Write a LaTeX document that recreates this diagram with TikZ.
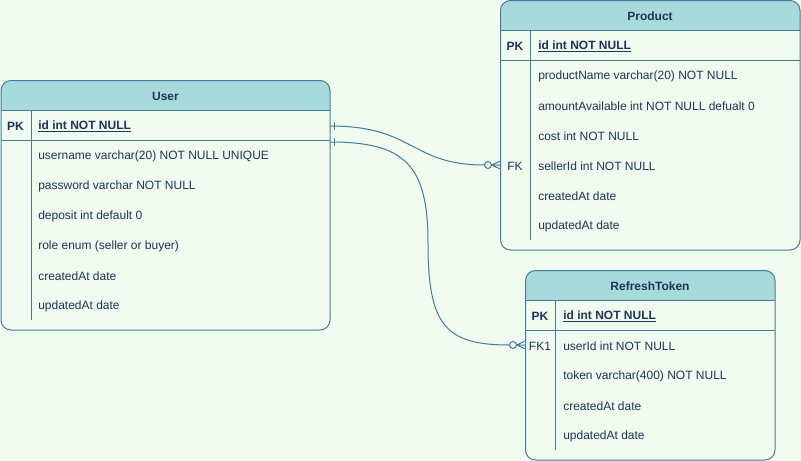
\documentclass[tikz,border=0pt]{standalone}
\usepackage{fontspec}
\setmainfont{Liberation Sans}
\definecolor{bg}{HTML}{F1FAEE}
\definecolor{hd}{HTML}{A8DADC}
\definecolor{ln}{HTML}{457B9D}
\definecolor{tx}{HTML}{1D3557}
\newcommand\ertbl[4]{%
  \begin{scope}
    \clip (#1-2,#2-2) rectangle (#3+2,#2+30);
    \fill[hd,rounded corners=7.5pt] (#1,#2) rectangle (#3,#4);
  \end{scope}
  \draw[tline,rounded corners=7.5pt] (#1,#2) rectangle (#3,#4);
  \draw[tline] (#1,#2+30) -- (#3,#2+30) (#1,#2+60) -- (#3,#2+60);
  \draw[tline] (#1+30,#2+30) -- (#1+30,#4-10);
}
\begin{document}
\begin{tikzpicture}[x=0.75pt,y=-0.75pt,
  tline/.style={draw=ln,line width=0.75pt},
  conn/.style={draw=ln,line width=0.75pt},
  txt/.style={text=tx,font=\fontsize{9}{11}\selectfont,inner sep=0pt,anchor=west,yshift=-0.75pt},
  keytxt/.style={text=tx,font=\fontsize{9}{11}\selectfont\bfseries,inner sep=0pt,yshift=-0.75pt},
  pktxt/.style={text=tx,font=\fontsize{9}{11}\selectfont\bfseries,inner sep=0pt,anchor=west,yshift=-0.75pt},
  fktxt/.style={text=tx,font=\fontsize{9}{11}\selectfont,inner sep=0pt,yshift=-0.75pt}]
\fill[bg] (0,0) rectangle (801,461);
\useasboundingbox (0,0) rectangle (801,461);

% User
\ertbl{1}{80.5}{330}{330}
\node[keytxt] (userT) at (165.5,95.5) {User};
\node[keytxt] (userPK) at (15.5,125.5) {PK};
\node[pktxt] (userId) at (38,125.5) {\underline{id int NOT NULL}};
\node[txt] (u1) at (38,155.5) {username varchar(20) NOT NULL UNIQUE};
\node[txt] (u2) at (38,185.5) {password varchar NOT NULL};
\node[txt] (u3) at (38,215.5) {deposit int default 0};
\node[txt] (u4) at (38,245.5) {role enum (seller or buyer)};
\node[txt] (u5) at (38,275.5) {createdAt date};
\node[txt] (u6) at (38,305.5) {updatedAt date};

% Product
\ertbl{500.5}{0.5}{800}{250}
\node[keytxt] (prodT) at (650,15.5) {Product};
\node[keytxt] (prodPK) at (515,45.5) {PK};
\node[pktxt] (prodId) at (538,45.5) {\underline{id int NOT NULL}};
\node[txt] (p1) at (538,75.5) {productName varchar(20) NOT NULL};
\node[txt] (p2) at (538,105.5) {amountAvailable int NOT NULL defualt 0};
\node[txt] (p3) at (538,135.5) {cost int NOT NULL};
\node[fktxt] (prodFK) at (515,165.5) {FK};
\node[txt] (p4) at (538,165.5) {sellerId int NOT NULL};
\node[txt] (p5) at (538,195.5) {createdAt date};
\node[txt] (p6) at (538,225.5) {updatedAt date};

% RefreshToken
\ertbl{525.5}{270.5}{775}{460}
\node[keytxt] (rtT) at (650,285.5) {RefreshToken};
\node[keytxt] (rtPK) at (540,315.5) {PK};
\node[pktxt] (rtId) at (563,315.5) {\underline{id int NOT NULL}};
\node[fktxt] (rtFK) at (540,345.5) {FK1};
\node[txt] (r1) at (563,345.5) {userId int NOT NULL};
\node[txt] (r2) at (563,375.5) {token varchar(400) NOT NULL};
\node[txt] (r3) at (563,405.5) {createdAt date};
\node[txt] (r4) at (563,435.5) {updatedAt date};

% connector end points
\coordinate (uA) at (330,126);
\coordinate (uB) at (330,142);
\coordinate (pA) at (484.5,165);
\coordinate (rA) at (509.5,345);

% User -> Product
\draw[conn] (uA) .. controls (415,126) and (410,165) .. (pA);
\draw[conn] (334,122) -- (334,130);
\draw[conn] (488,165) circle[radius=2.6pt];
\draw[conn] (491.5,165) -- (500.5,161) (491.5,165) -- (500.5,165) (491.5,165) -- (500.5,169);

% User -> RefreshToken
\draw[conn] (uB) .. controls (405,142) and (428,165) .. (428,243) .. controls (428,325) and (445,345) .. (rA);
\draw[conn] (334,138) -- (334,146);
\draw[conn] (513,345) circle[radius=2.6pt];
\draw[conn] (516.5,345) -- (525.5,341) (516.5,345) -- (525.5,345) (516.5,345) -- (525.5,349);
\end{tikzpicture}
\end{document}
